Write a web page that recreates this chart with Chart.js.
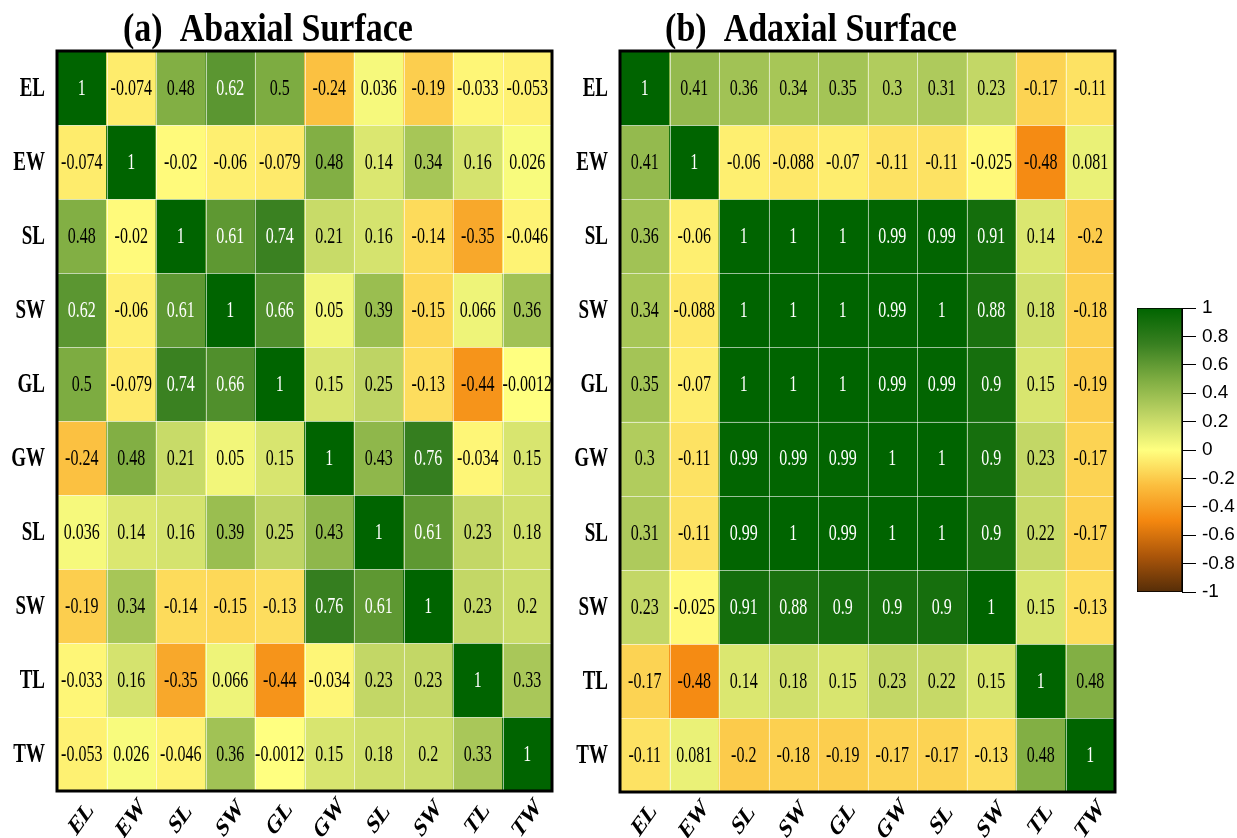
<!DOCTYPE html>
<html>
<head>
<meta charset="utf-8">
<script src="https://cdn.jsdelivr.net/npm/chart.js@4.4.0/dist/chart.umd.min.js"></script>
<style>
  html, body { margin: 0; padding: 0; background: #fff; }
  #wrap { position: relative; width: 1237px; height: 838px; overflow: hidden; }
  canvas { position: absolute; top: 0; }
</style>
</head>
<body>
<div id="wrap">
  <canvas id="abaxial" width="580" height="838" style="left:0"></canvas>
  <canvas id="adaxial" width="570" height="838" style="left:560px"></canvas>
  <canvas id="colorbar" width="112" height="838" style="left:1125px"></canvas>
</div>
<script>
// trait labels (same order on both axes)
const traits = ['EL', 'EW', 'SL', 'SW', 'GL', 'GW', 'SL', 'SW', 'TL', 'TW'];

// correlation matrices, one row per trait
const abaxial = [
    [1, -0.074, 0.48, 0.62, 0.5, -0.24, 0.036, -0.19, -0.033, -0.053],
    [-0.074, 1, -0.02, -0.06, -0.079, 0.48, 0.14, 0.34, 0.16, 0.026],
    [0.48, -0.02, 1, 0.61, 0.74, 0.21, 0.16, -0.14, -0.35, -0.046],
    [0.62, -0.06, 0.61, 1, 0.66, 0.05, 0.39, -0.15, 0.066, 0.36],
    [0.5, -0.079, 0.74, 0.66, 1, 0.15, 0.25, -0.13, -0.44, -0.0012],
    [-0.24, 0.48, 0.21, 0.05, 0.15, 1, 0.43, 0.76, -0.034, 0.15],
    [0.036, 0.14, 0.16, 0.39, 0.25, 0.43, 1, 0.61, 0.23, 0.18],
    [-0.19, 0.34, -0.14, -0.15, -0.13, 0.76, 0.61, 1, 0.23, 0.2],
    [-0.033, 0.16, -0.35, 0.066, -0.44, -0.034, 0.23, 0.23, 1, 0.33],
    [-0.053, 0.026, -0.046, 0.36, -0.0012, 0.15, 0.18, 0.2, 0.33, 1]
];

const adaxial = [
    [1, 0.41, 0.36, 0.34, 0.35, 0.3, 0.31, 0.23, -0.17, -0.11],
    [0.41, 1, -0.06, -0.088, -0.07, -0.11, -0.11, -0.025, -0.48, 0.081],
    [0.36, -0.06, 1, 1, 1, 0.99, 0.99, 0.91, 0.14, -0.2],
    [0.34, -0.088, 1, 1, 1, 0.99, 1, 0.88, 0.18, -0.18],
    [0.35, -0.07, 1, 1, 1, 0.99, 0.99, 0.9, 0.15, -0.19],
    [0.3, -0.11, 0.99, 0.99, 0.99, 1, 1, 0.9, 0.23, -0.17],
    [0.31, -0.11, 0.99, 1, 0.99, 1, 1, 0.9, 0.22, -0.17],
    [0.23, -0.025, 0.91, 0.88, 0.9, 0.9, 0.9, 1, 0.15, -0.13],
    [-0.17, -0.48, 0.14, 0.18, 0.15, 0.23, 0.22, 0.15, 1, 0.48],
    [-0.11, 0.081, -0.2, -0.18, -0.19, -0.17, -0.17, -0.13, 0.48, 1]
];

const colorbarTicks = [-1, -0.8, -0.6, -0.4, -0.2, 0, 0.2, 0.4, 0.6, 0.8, 1];

// colour ramp: brown -> orange -> yellow -> green
const rampStops = [
    [-1, [85, 45, 8]],
    [-0.75, [170, 85, 10]],
    [-0.5, [244, 135, 15]],
    [-0.25, [251, 190, 62]],
    [0, [255, 255, 128]],
    [0.25, [190, 212, 100]],
    [0.5, [125, 172, 65]],
    [0.75, [55, 127, 32]],
    [1, [0, 100, 0]]
];

const SERIF = '"Liberation Serif", "Times New Roman", serif';
const SANS = '"Liberation Sans", Arial, sans-serif';
const STRETCH = 1.4; // text in the panels is drawn taller than wide

function rgb(c) {
    return `rgb(${Math.round(c[0])}, ${Math.round(c[1])}, ${Math.round(c[2])})`;
}

function colorFor(v) {
    for (let i = 0; i < rampStops.length - 1; i++) {
        const [v0, c0] = rampStops[i];
        const [v1, c1] = rampStops[i + 1];
        if (v >= v0 && v <= v1) {
            const t = (v - v0) / (v1 - v0);
            return rgb([0, 1, 2].map(k => c0[k] + (c1[k] - c0[k]) * t));
        }
    }
    return rgb(v > 0 ? rampStops[rampStops.length - 1][1] : rampStops[0][1]);
}

function stretchedText(ctx, text, x, y, sy, angle) {
    ctx.save();
    ctx.translate(x, y);
    ctx.scale(1, sy);
    if (angle) ctx.rotate(angle);
    ctx.fillText(text, 0, 0);
    ctx.restore();
}

function panelPlugin(matrix, title, titleX) {
    return {
        id: 'panelText',
        afterDatasetsDraw(chart) {
            const ctx = chart.ctx;
            const a = chart.chartArea;
            const ys = chart.scales.y;
            const cw = a.width / traits.length;

            ctx.save();
            // thin white cell separators
            ctx.strokeStyle = 'rgba(255, 255, 255, 0.6)';
            ctx.lineWidth = 1;
            ctx.beginPath();
            for (let i = 1; i < traits.length; i++) {
                const x = Math.round(a.left + i * cw) + 0.5;
                ctx.moveTo(x, a.top);
                ctx.lineTo(x, a.bottom);
                const y = Math.round(ys.getPixelForValue(i)) + 0.5;
                ctx.moveTo(a.left, y);
                ctx.lineTo(a.right, y);
            }
            ctx.stroke();

            // cell values
            ctx.font = `16px ${SERIF}`;
            ctx.textAlign = 'center';
            ctx.textBaseline = 'middle';
            matrix.forEach((row, r) => {
                const meta = chart.getDatasetMeta(r);
                const yc = ys.getPixelForValue(r + 0.5);
                row.forEach((v, c) => {
                    ctx.fillStyle = v >= 0.6 ? '#fff' : '#000';
                    stretchedText(ctx, String(v), meta.data[c].x, yc + 1, STRETCH);
                });
            });

            // frame
            ctx.strokeStyle = '#000';
            ctx.lineWidth = 3;
            ctx.strokeRect(a.left, a.top, a.width, a.height);

            // axis labels
            ctx.fillStyle = '#000';
            ctx.font = `bold 19px ${SERIF}`;
            ctx.textAlign = 'right';
            traits.forEach((t, r) => {
                stretchedText(ctx, t, a.left - 12, ys.getPixelForValue(r + 0.5) + 1, STRETCH);
            });
            ctx.textAlign = 'center';
            const meta0 = chart.getDatasetMeta(0);
            traits.forEach((t, c) => {
                stretchedText(ctx, t, meta0.data[c].x, a.bottom + 28, STRETCH, -Math.PI / 4);
            });

            // title
            ctx.font = `bold 34px ${SERIF}`;
            ctx.textBaseline = 'alphabetic';
            stretchedText(ctx, title, titleX, 41, 1.15);
            ctx.restore();
        }
    };
}

function makePanel(id, matrix, title, titleX, padding) {
    const datasets = matrix.map((row, r) => ({
        data: row.map(() => [r, r + 1]),
        backgroundColor: row.map(colorFor),
        borderWidth: 0,
        grouped: false,
        categoryPercentage: 1,
        barPercentage: 1
    }));
    return new Chart(document.getElementById(id), {
        type: 'bar',
        data: { labels: traits.map((t, i) => i), datasets },
        options: {
            responsive: false,
            animation: false,
            layout: { padding },
            plugins: { legend: { display: false }, tooltip: { enabled: false } },
            scales: {
                x: { type: 'category', display: false, offset: true },
                y: { type: 'linear', display: false, min: 0, max: traits.length, reverse: true }
            }
        },
        plugins: [panelPlugin(matrix, title, titleX)]
    });
}

makePanel('abaxial', abaxial, '(a)  Abaxial Surface', 268,
    { left: 57, right: 28, top: 51, bottom: 47 });
makePanel('adaxial', adaxial, '(b)  Adaxial Surface', 251,
    { left: 60, right: 15, top: 51, bottom: 46 });

// colour bar: one floating bar filled with the ramp, right axis gives the ticks
new Chart(document.getElementById('colorbar'), {
    type: 'bar',
    data: {
        labels: [''],
        datasets: [{
            data: [[-1, 1]],
            backgroundColor(c) {
                const area = c.chart.chartArea;
                if (!area) return null;
                const g = c.chart.ctx.createLinearGradient(0, area.bottom, 0, area.top);
                rampStops.forEach(([v, col]) => g.addColorStop((v + 1) / 2, rgb(col)));
                return g;
            },
            borderColor: '#000',
            borderWidth: 1,
            borderSkipped: false,
            categoryPercentage: 1,
            barPercentage: 1
        }]
    },
    options: {
        responsive: false,
        animation: false,
        layout: { padding: { left: 12, right: 0, top: 308, bottom: 246 } },
        plugins: { legend: { display: false }, tooltip: { enabled: false } },
        scales: {
            x: { display: false },
            y: {
                position: 'right',
                min: -1,
                max: 1,
                afterFit(s) { s.width = 55; },
                afterBuildTicks(s) { s.ticks = colorbarTicks.map(v => ({ value: v })); },
                grid: { drawOnChartArea: false, tickLength: 14, color: '#000', lineWidth: 1 },
                border: { display: true, color: '#000', width: 1 },
                ticks: {
                    color: '#000',
                    padding: 6,
                    font: { family: SANS, size: 19 },
                    callback: v => String(v)
                }
            }
        }
    }
});
</script>
</body>
</html>
